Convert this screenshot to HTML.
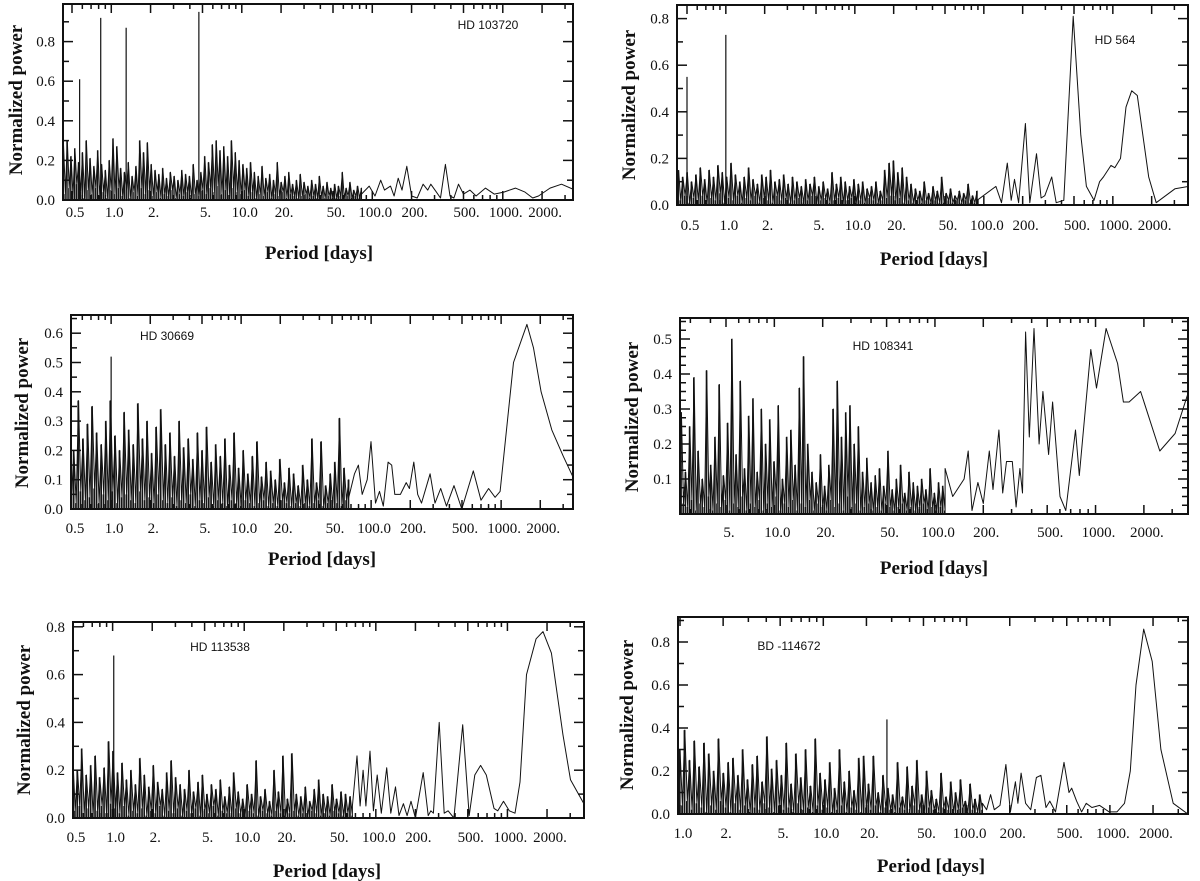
<!DOCTYPE html>
<html><head><meta charset="utf-8"><style>
html,body{margin:0;padding:0;background:#fff}
svg{display:block}
.tl{font-family:"Liberation Serif",serif;font-size:15px;fill:#111}
.at{font-family:"Liberation Serif",serif;font-size:19px;font-weight:bold;fill:#111}
.nm{font-family:"Liberation Sans",sans-serif;font-size:12px;fill:#111}
</style></head><body>
<svg id="fig" width="1200" height="881" viewBox="0 0 1200 881" xmlns="http://www.w3.org/2000/svg"></svg>
<script>
// ---------- DATA ----------
const xLabelsA = ["0.5","1.0","2.","5.","10.0","20.","50.","100.0","200.","500.","1000.","2000."];
const xTickValsA = [0.5,1,2,5,10,20,50,100,200,500,1000,2000];
const xLabelsB = ["5.","10.0","20.","50.","100.0","200.","500.","1000.","2000."];
const xTickValsB = [5,10,20,50,100,200,500,1000,2000];
const xLabelsC = ["1.0","2.","5.","10.0","20.","50.","100.0","200.","500.","1000.","2000."];
const xTickValsC = [1,2,5,10,20,50,100,200,500,1000,2000];

const yTicks1 = [0,0.2,0.4,0.6,0.8];
const yLabels1 = ["0.0","0.2","0.4","0.6","0.8"];
const yTicks3 = [0,0.1,0.2,0.3,0.4,0.5,0.6];
const yLabels3 = ["0.0","0.1","0.2","0.3","0.4","0.5","0.6"];
const yTicks4 = [0.1,0.2,0.3,0.4,0.5];
const yLabels4 = ["0.1","0.2","0.3","0.4","0.5"];

// Panel 1: HD 103720
const p1NoiseRange = [0.43, 82.7];
const p1Noise = [28,3,30,6,22,2,26,8,19,4,24,1,30,5,21,3,17,6,25,2,18,4,15,1,20,5,31,3,27,6,16,2,14,5,19,1,12,4,17,2,30,6,24,3,29,5,18,2,15,4,13,1,16,3,11,2,14,5,12,1,10,3,15,2,13,4,12,1,18,3,10,2,14,5,22,3,19,6,28,4,30,7,25,3,27,5,22,2,30,6,24,4,20,3,18,5,16,2,19,4,14,1,12,3,17,2,11,4,13,1,10,3,19,2,9,4,12,1,14,3,8,2,10,1,13,2,9,3,7,1,10,2,8,1,12,2,7,1,9,2,6,1,8,1,7,2,14,1,6,2,9,1,5,2,7,1,6];
const p1SpikeP = [0.572,0.83,1.30,4.69];
const p1SpikeV = [0.61,0.92,0.87,0.95];
const p1CurveP = [82.7,94.7,105,116,124,138,147,158,169,184,200,221,245,266,281,310,333,363,394,422,458,500,561,625,736,859,1018,1250,1479,1694,1878,2301,2817,3575];
const p1CurveV = [0.03,0.07,0.02,0.10,0.05,0.07,0.02,0.11,0.05,0.17,0.02,0.01,0.08,0.05,0.08,0.04,0.01,0.18,0.02,0.01,0.08,0.03,0.05,0.02,0.06,0.03,0.04,0.06,0.04,0.01,0.02,0.06,0.08,0.05];

// Panel 2: HD 564
const p2NoiseRange = [0.43, 88.6];
const p2Noise = [15,2,12,4,14,1,10,3,13,2,16,4,11,1,15,3,12,2,17,5,14,1,12,3,18,2,13,4,10,1,12,3,16,2,11,4,9,1,13,3,12,2,15,1,10,4,11,2,13,3,9,1,12,2,10,3,8,1,11,2,9,4,12,1,8,2,10,3,7,1,14,2,9,3,12,1,10,2,8,3,11,1,9,2,10,1,7,3,8,2,10,1,6,2,15,3,18,4,19,2,14,3,16,1,12,2,9,1,7,2,6,1,10,2,5,1,8,2,6,1,12,1,5,2,7,1,4,2,6,1,5,2,9,1,4,1,6];
const p2SpikeP = [0.5,1.0];
const p2SpikeV = [0.55,0.73];
const p2CurveP = [88.6,124,137,152,163,173,186,210,227,256,278,297,336,364,417,493,565,624,714,789,845,968,1035,1146,1265,1400,1549,1897,2168,3040,3845];
const p2CurveV = [0.02,0.08,0.01,0.18,0.02,0.11,0.01,0.35,0.01,0.22,0.03,0.04,0.12,0.01,0.02,0.81,0.30,0.08,0.02,0.10,0.12,0.17,0.16,0.20,0.42,0.49,0.47,0.12,0.01,0.07,0.08];

// Panel 3: HD 30669
const p3NoiseRange = [0.44, 67.3];
const p3Noise = [25,3,28,5,20,2,37,6,24,3,29,4,35,7,26,2,22,5,30,3,37,6,25,2,20,4,33,5,27,3,22,2,36,6,24,3,30,4,19,2,28,5,34,3,22,2,26,4,18,1,30,3,21,2,24,5,17,1,26,3,20,2,28,4,16,1,22,3,18,2,24,1,15,3,26,2,14,1,20,3,12,2,18,1,23,2,11,3,16,1,13,2,10,1,17,3,9,2,14,1,12,2,8,1,15,2,10,1,24,2,9,3,23,1,8,2,12,1,16,2,31,1,14,3,10];
const p3SpikeP = [1.0];
const p3SpikeV = [0.52];
const p3CurveP = [67.3,74.5,79.8,85.4,93.3,99.8,108,116,124,135,144,152,168,186,197,213,228,244,284,310,343,380,434,498,611,700,801,899,982,1245,1577,1774,2028,2455,3007,3564];
const p3CurveV = [0.04,0.12,0.15,0.05,0.10,0.23,0.02,0.06,0.01,0.16,0.15,0.05,0.05,0.09,0.07,0.16,0.05,0.02,0.12,0.02,0.07,0.01,0.08,0.00,0.13,0.03,0.07,0.04,0.06,0.50,0.63,0.55,0.40,0.27,0.18,0.11];

// Panel 4: HD 108341
const p4NoiseRange = [2.2, 115.6];
const p4Noise = [30,2,37,5,15,1,29,3,12,2,25,4,39,1,18,3,10,2,41,5,14,1,22,3,37,2,11,4,26,1,50,3,17,2,38,5,13,1,28,3,33,2,12,4,30,1,20,3,27,2,15,5,31,1,10,3,22,2,24,4,14,1,36,3,45,2,20,4,12,1,9,3,17,2,8,1,14,4,30,2,38,3,22,1,29,5,31,2,20,3,25,1,12,2,16,3,9,1,11,2,13,1,8,3,18,2,7,1,10,2,14,3,6,1,12,2,9,1,8,2,10,3,7,1,13,2,6,1,9,2,8,1];
const p4SpikeP = [];
const p4SpikeV = [];
const p4CurveP = [115.6,129,152,161,170,185,200,218,230,250,264,279,303,320,338,351,367,387,414,445,470,510,540,601,653,750,792,934,1014,1164,1372,1491,1618,1909,2511,3127,3797];
const p4CurveV = [0.13,0.05,0.10,0.18,0.01,0.09,0.03,0.18,0.07,0.24,0.06,0.15,0.15,0.02,0.13,0.06,0.52,0.22,0.53,0.20,0.35,0.17,0.32,0.05,0.01,0.24,0.11,0.47,0.36,0.53,0.43,0.32,0.32,0.35,0.18,0.23,0.35];

// Panel 5: HD 113538
const p5NoiseRange = [0.5, 66.4];
const p5Noise = [24,3,20,5,29,2,18,4,22,1,26,3,17,5,21,2,32,6,28,4,19,2,23,5,16,1,20,3,14,2,25,4,18,1,13,3,22,2,15,5,12,1,19,3,24,2,17,4,14,1,12,3,20,2,11,4,15,1,18,3,10,2,14,5,12,1,16,3,9,2,13,1,19,4,11,2,8,1,14,3,10,2,24,1,9,3,12,2,7,1,20,3,11,2,26,1,8,2,27,3,10,1,9,2,13,1,7,3,12,2,16,1,10,2,9,1,14,3,8,2,11,1,10,2,9,1];
const p5SpikeP = [1.02];
const p5SpikeV = [0.68];
const p5CurveP = [66.4,71.9,75.9,80,84,90.3,95.9,102.5,110,121,130,141,150,162,173,185,200,229,250,262,274,303,331,354,392,457,512,565,625,691,791,845,934,1033,1142,1247,1396,1651,1863,2158,2642,3017,3810];
const p5CurveV = [0.05,0.26,0.05,0.20,0.05,0.28,0.03,0.18,0.02,0.21,0.02,0.13,0.01,0.06,0.01,0.07,0.00,0.19,0.01,0.03,0.02,0.40,0.02,0.03,0.00,0.39,0.01,0.18,0.22,0.18,0.04,0.03,0.07,0.03,0.02,0.15,0.60,0.75,0.78,0.69,0.35,0.16,0.06];

// Panel 6: BD -114672
const p6NoiseRange = [1.0, 129];
const p6Noise = [30,4,39,6,25,2,34,5,22,3,33,1,28,4,20,2,35,6,19,3,24,1,26,5,18,2,30,4,16,1,23,3,27,2,15,5,36,3,21,1,25,4,18,2,33,3,14,1,28,5,17,2,30,3,13,1,35,4,19,2,16,3,24,1,12,2,30,4,15,1,20,3,11,2,26,1,27,3,14,2,27,4,10,1,18,3,12,2,9,1,24,3,8,2,22,1,13,4,25,2,9,1,20,3,11,2,7,1,19,3,8,2,15,1,10,2,16,3,6,1,14,2,7,1,9,2];
const p6SpikeP = [27.8];
const p6SpikeV = [0.44];
const p6CurveP = [129,138,147,156,171,188,202,219,228,240,258,280,307,330,358,381,417,478,518,541,586,635,683,749,848,989,1119,1265,1387,1521,1722,1972,2270,2765,3497];
const p6CurveV = [0.05,0.02,0.09,0.02,0.04,0.23,0.01,0.15,0.05,0.19,0.05,0.02,0.17,0.18,0.03,0.06,0.01,0.24,0.10,0.12,0.06,0.01,0.05,0.03,0.04,0.01,0.01,0.05,0.20,0.60,0.86,0.71,0.30,0.05,0.00];

// ---------- RENDER ----------
const NS = "http://www.w3.org/2000/svg";
const svg = document.getElementById('fig');
function mk(tag, attrs, parent){
  const e = document.createElementNS(NS, tag);
  for (const k in attrs) e.setAttribute(k, attrs[k]);
  (parent||svg).appendChild(e);
  return e;
}

const panels = [
 {id:'hd103720', name:'HD 103720', frame:[63,4,573,200], pRef:0.5, xRef:72, dec:130.5, y0:200, ky:198,
  yT:yTicks1, yL:yLabels1, yMinor:0.1, xT:xTickValsA, xL:xLabelsA, tlY:212,
  title:[319,252], yTitle:[15,100], nameXY:[488,25],
  nr:p1NoiseRange, noise:p1Noise, sp:p1SpikeP, sv:p1SpikeV, cp:p1CurveP, cv:p1CurveV},
 {id:'hd564', name:'HD 564', frame:[677,5,1188,205], pRef:0.5, xRef:687, dec:129, y0:205, ky:233,
  yT:yTicks1, yL:yLabels1, yMinor:0.1, xT:xTickValsA, xL:xLabelsA, tlY:225,
  title:[934,258], yTitle:[628,105], nameXY:[1115,40],
  nr:p2NoiseRange, noise:p2Noise, sp:p2SpikeP, sv:p2SpikeV, cp:p2CurveP, cv:p2CurveV},
 {id:'hd30669', name:'HD 30669', frame:[71,315,573,509], pRef:0.5, xRef:72, dec:130, y0:509, ky:293,
  yT:yTicks3, yL:yLabels3, yMinor:0.05, xT:xTickValsA, xL:xLabelsA, tlY:528,
  title:[322,558], yTitle:[21,413], nameXY:[167,336],
  nr:p3NoiseRange, noise:p3Noise, sp:p3SpikeP, sv:p3SpikeV, cp:p3CurveP, cv:p3CurveV},
 {id:'hd108341', name:'HD 108341', frame:[680,318,1188,514], pRef:5, xRef:726, dec:160.6, y0:514, ky:350,
  yT:yTicks4, yL:yLabels4, yMinor:0.025, xT:xTickValsB, xL:xLabelsB, tlY:532,
  title:[934,567], yTitle:[631,417], nameXY:[883,346],
  nr:p4NoiseRange, noise:p4Noise, sp:p4SpikeP, sv:p4SpikeV, cp:p4CurveP, cv:p4CurveV},
 {id:'hd113538', name:'HD 113538', frame:[73,622,584,818], pRef:0.5, xRef:73, dec:131.6, y0:818, ky:239,
  yT:yTicks1, yL:yLabels1, yMinor:0.1, xT:xTickValsA, xL:xLabelsA, tlY:837,
  title:[327,870], yTitle:[23,720], nameXY:[220,647],
  nr:p5NoiseRange, noise:p5Noise, sp:p5SpikeP, sv:p5SpikeV, cp:p5CurveP, cv:p5CurveV},
 {id:'bd114672', name:'BD -114672', frame:[678,617,1188,814], pRef:1, xRef:680, dec:143.3, y0:814, ky:215,
  yT:yTicks1, yL:yLabels1, yMinor:0.1, xT:xTickValsC, xL:xLabelsC, tlY:833,
  title:[931,865], yTitle:[626,715], nameXY:[789,646],
  nr:p6NoiseRange, noise:p6Noise, sp:p6SpikeP, sv:p6SpikeV, cp:p6CurveP, cv:p6CurveV}
];

const defs = mk('defs', {});
panels.forEach((P, idx) => {
  const [fx0, fy0, fx1, fy1] = P.frame;
  const X = p => P.xRef + P.dec * Math.log10(p / P.pRef);
  const Y = v => P.y0 - P.ky * v;
  const g = mk('g', {});
  
  

  const cp = mk('clipPath', {id:'clip' + idx}, defs);
  mk('rect', {x:fx0, y:fy0, width:fx1 - fx0, height:fy1 - fy0}, cp);

  // noise bars (dense region)
  const n = P.noise.length;
  const l0 = Math.log10(P.nr[0]), l1 = Math.log10(P.nr[1]);
  const step = (X(P.nr[1]) - X(P.nr[0])) / (n - 1);
  const bars = mk('g', {fill:'#151515', 'clip-path':'url(#clip' + idx + ')'}, g);
  
  
  const pts = [];
  for (let i = 0; i < n; i++) {
    const p = Math.pow(10, l0 + (l1 - l0) * i / (n - 1));
    const x = X(p), y = Y(P.noise[i] / 100);
    const r = mk('rect', {x:(x - step * 0.5).toFixed(1), y:y.toFixed(1), width:(step * 0.75).toFixed(2), height:(Y(0) - y).toFixed(1)}, bars);
    
    
    pts.push(x.toFixed(1) + ',' + y.toFixed(1));
  }
  for (let i = 0; i < P.cp.length; i++) pts.push(X(P.cp[i]).toFixed(1) + ',' + Y(P.cv[i]).toFixed(1));
  const line = mk('polyline', {points:pts.join(' '), fill:'none', stroke:'#111', 'stroke-width':1, 'stroke-linejoin':'round', 'clip-path':'url(#clip' + idx + ')'}, g);
  
  
  for (let i = 0; i < P.sp.length; i++) {
    const s = mk('line', {x1:X(P.sp[i]), x2:X(P.sp[i]), y1:Y(0), y2:Y(P.sv[i]), stroke:'#111', 'stroke-width':1.2, 'clip-path':'url(#clip' + idx + ')'}, g);
    
    
  }

  // frame
  const fr = mk('rect', {x:fx0, y:fy0, width:fx1 - fx0, height:fy1 - fy0, fill:'none', stroke:'#111', 'stroke-width':2}, g);
  
  

  // x ticks
  const ax = mk('g', {stroke:'#111', 'stroke-width':1.5}, g);
  
  
  for (let k = -1; k <= 4; k++) {
    for (let m = 1; m <= 9; m++) {
      const p = m * Math.pow(10, k);
      const x = X(p);
      if (x <= fx0 + 1 || x >= fx1 - 1) continue;
      const major = P.xT.indexOf(+p.toPrecision(3)) >= 0;
      const L = major ? 9 : 5;
      mk('line', {x1:x, x2:x, y1:fy1, y2:fy1 - L}, ax);
      mk('line', {x1:x, x2:x, y1:fy0, y2:fy0 + L}, ax);
    }
  }
  for (let i = 0; i < P.xT.length; i++) {
    const x = X(P.xT[i]);
    const t = mk('text', {x:x + 3, y:P.tlY + 5, 'text-anchor':'middle', class:'tl'}, g);
    t.textContent = P.xL[i];
    
    
  }
  // y ticks
  const ay = mk('g', {stroke:'#111', 'stroke-width':1.5}, g);
  
  
  for (let v = 0; Y(v) >= fy0 - 0.5; v = +(v + P.yMinor).toFixed(4)) {
    const y = Y(v);
    if (y > fy1 - 1 || y < fy0 + 1) continue;
    const major = P.yT.some(t => Math.abs(t - v) < 1e-6);
    const L = major ? 10 : 6;
    mk('line', {x1:fx0, x2:fx0 + L, y1:y, y2:y}, ay);
    mk('line', {x1:fx1, x2:fx1 - L, y1:y, y2:y}, ay);
  }
  for (let i = 0; i < P.yT.length; i++) {
    const t = mk('text', {x:fx0 - 8, y:Y(P.yT[i]) + 5, 'text-anchor':'end', class:'tl'}, g);
    t.textContent = P.yL[i];
    
    
  }
  // titles
  const xt = mk('text', {x:P.title[0], y:P.title[1] + 7, 'text-anchor':'middle', class:'at'}, g);
  xt.textContent = 'Period [days]';
  
  
  const yt = mk('text', {x:0, y:0, 'text-anchor':'middle', class:'at', transform:'translate(' + (P.yTitle[0] + 7) + ',' + P.yTitle[1] + ') rotate(-90)'}, g);
  yt.textContent = 'Normalized power';
  
  
  const nm = mk('text', {x:P.nameXY[0], y:P.nameXY[1] + 4, 'text-anchor':'middle', class:'nm'}, g);
  nm.textContent = P.name;
  
  
});
</script>
</body></html>
